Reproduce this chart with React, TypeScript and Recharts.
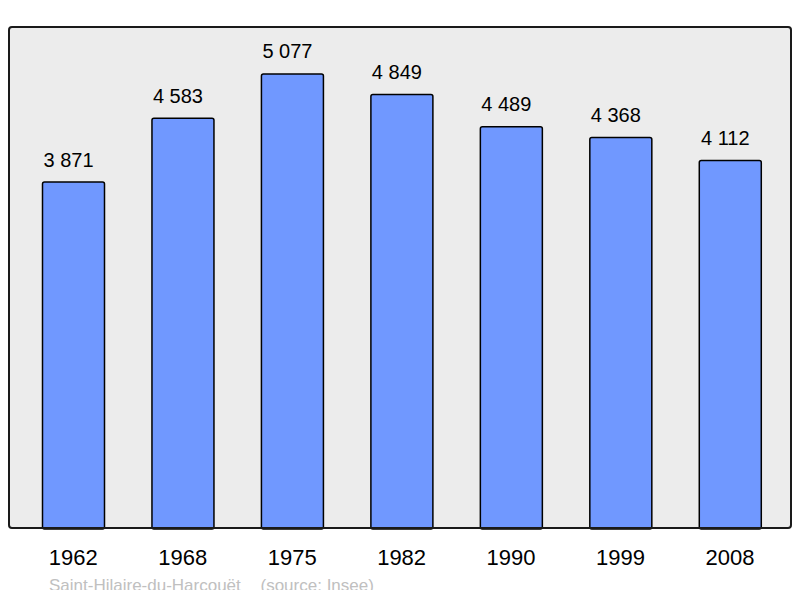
import React from 'react';
import { BarChart, Bar, XAxis, YAxis, LabelList } from 'recharts';

const years = ['1962', '1968', '1975', '1982', '1990', '1999', '2008'];
const population = [3871, 4583, 5077, 4849, 4489, 4368, 4112];
const footerPlace = 'Saint-Hilaire-du-Harcouët';
const footerSource = '(source: Insee)';

const data = years.map((y, i) => ({ year: y, pop: population[i] }));

const FONT = '"Liberation Sans", Arial, Helvetica, sans-serif';

const fmt = (v: number) => {
  const s = String(v);
  return s.length > 3 ? s.slice(0, -3) + ' ' + s.slice(-3) : s;
};

const ValueLabel = (props: any) => {
  const { x, y, width, value } = props;
  return (
    <text
      x={Number(x) + Number(width) / 2 - 5}
      y={Number(y) - 15.5}
      textAnchor="middle"
      fontSize={20}
      fontFamily={FONT}
      fill="#000"
    >
      {fmt(Number(value))}
    </text>
  );
};

const W = 784;
const H = 582;

export default function App() {
  return (
    <div style={{ position: 'relative', width: W, height: 590, marginBottom: -8, overflow: 'hidden' }}>
      <div
        style={{
          position: 'absolute',
          left: 0,
          top: 18,
          width: 784,
          height: 503,
          background: '#ececec',
          borderRadius: 4,
        }}
      />
      <div style={{ position: 'absolute', left: 0, top: 0 }}>
        <BarChart
          width={W}
          height={H}
          data={data}
          margin={{ top: 20, right: 7.25, bottom: 31, left: 10.5 }}
          barCategoryGap={0}
        >
          <XAxis
            dataKey="year"
            axisLine={false}
            tickLine={false}
            tickSize={0}
            tickMargin={20}
            height={30}
            interval={0}
            tick={{ fill: '#000', fontSize: 22, fontFamily: FONT }}
          />
          <YAxis hide domain={[0, 5590]} />
          <Bar
            dataKey="pop"
            fill="#7098ff"
            stroke="#000"
            strokeWidth={1.5}
            barSize={62}
            radius={2}
            isAnimationActive={false}
          >
            <LabelList dataKey="pop" content={ValueLabel} />
          </Bar>
        </BarChart>
      </div>
      <div
        style={{
          position: 'absolute',
          left: 0,
          top: 18,
          width: 784,
          height: 503,
          boxSizing: 'border-box',
          border: '2px solid #1a1a1a',
          borderRadius: 4,
          pointerEvents: 'none',
        }}
      />
      <svg
        width={W}
        height={590}
        style={{ position: 'absolute', left: 0, top: 0, pointerEvents: 'none' }}
      >
        <text x={41} y={582.5} fontSize={17} fontFamily={FONT} fill="#c0c0c0">
          {footerPlace}
        </text>
        <text x={252.5} y={582.5} fontSize={17} fontFamily={FONT} fill="#c0c0c0">
          {footerSource}
        </text>
      </svg>
    </div>
  );
}
